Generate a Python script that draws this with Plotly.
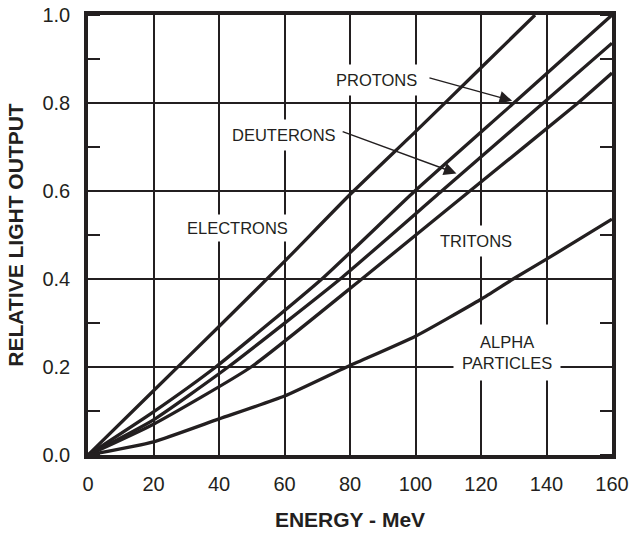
import plotly.graph_objects as go

# values (energy MeV -> relative light output)
electrons_x = [0, 20, 40, 60, 80, 100, 120, 136.5]
electrons_y = [0, 0.146, 0.292, 0.44, 0.592, 0.735, 0.88, 1.0]

protons_x = [0, 20, 39, 71.4, 99.8, 130, 160]
protons_y = [0, 0.098, 0.2, 0.4, 0.6, 0.8, 1.0]

deuterons_x = [0, 20, 42.8, 77, 108, 139, 160]
deuterons_y = [0, 0.08, 0.2, 0.4, 0.6, 0.8, 0.936]

tritons_x = [0, 20, 49.8, 83.6, 116.6, 149.6, 160]
tritons_y = [0, 0.07, 0.2, 0.4, 0.6, 0.8, 0.868]

alpha_x = [0, 20, 40, 60, 79, 100, 120, 129.8, 140, 160]
alpha_y = [0, 0.030, 0.082, 0.134, 0.2, 0.27, 0.354, 0.4, 0.445, 0.536]

x_ticks = [0, 20, 40, 60, 80, 100, 120, 140, 160]
y_ticks = [0.0, 0.2, 0.4, 0.6, 0.8, 1.0]

# label text + where it sits
labels = [("PROTONS", 88.2, 0.852, 6),
          ("DEUTERONS", 59.8, 0.727, 6),
          ("ELECTRONS", 45.6, 0.516, 4),
          ("TRITONS", 118.5, 0.487, 6),
          ("ALPHA<br>PARTICLES", 127.9, 0.234, 8)]
# arrows: (tip x, tip y, tail x, tail y)
arrows = [(129.5, 0.805, 103.8, 0.858),
          (112.5, 0.640, 77.3, 0.736)]

INK = "#231f20"
FONT = "Liberation Sans, Arial, sans-serif"

fig = go.Figure()
series = [(electrons_x, electrons_y), (protons_x, protons_y),
          (deuterons_x, deuterons_y), (tritons_x, tritons_y),
          (alpha_x, alpha_y)]
for xs, ys in series:
    fig.add_trace(go.Scatter(x=xs, y=ys, mode="lines",
                             line=dict(color=INK, width=3.3, shape="spline", smoothing=0.5),
                             hoverinfo="skip", showlegend=False))

for txt, lx, ly, pad in labels:
    fig.add_annotation(x=lx, y=ly, text=txt, showarrow=False, bgcolor="white",
                       borderpad=pad, font=dict(family=FONT, size=16.5, color=INK))

for tx, ty, sx, sy in arrows:
    fig.add_annotation(x=tx, y=ty, ax=sx, ay=sy, axref="x", ayref="y", text="",
                       showarrow=True, arrowhead=2, arrowsize=1.8, arrowwidth=1.4,
                       arrowcolor=INK)

fig.update_layout(
    width=633, height=535,
    margin=dict(l=88, r=21, t=15, b=80),
    plot_bgcolor="white", paper_bgcolor="white",
    font=dict(family=FONT, color=INK),
    showlegend=False,
)
fig.update_xaxes(range=[0, 160], tickvals=x_ticks, ticks="", automargin=False,
                 showgrid=True, gridcolor=INK, gridwidth=2, zeroline=False,
                 showline=True, linecolor=INK, linewidth=3.5, mirror=True,
                 tickfont=dict(size=20), ticklabelstandoff=8,
                 title=dict(text="<b>ENERGY - MeV</b>", font=dict(size=21), standoff=20))
fig.update_yaxes(range=[0, 1], tickvals=y_ticks, tickformat=".1f", ticks="", automargin=False,
                 showgrid=True, gridcolor=INK, gridwidth=2, zeroline=False,
                 showline=True, linecolor=INK, linewidth=3.5, mirror="allticks",
                 minor=dict(dtick=0.1, ticks="inside", ticklen=12, tickwidth=2,
                            tickcolor=INK, showgrid=False),
                 tickfont=dict(size=20), ticklabelstandoff=10,
                 title=dict(text="<b>RELATIVE LIGHT OUTPUT</b>", font=dict(size=21), standoff=14))

# page has a default 8px body margin; drop it so the figure sits at 0,0
fig.write_html("out.html", config={"displayModeBar": False},
               post_script="document.body.style.margin='0';")
